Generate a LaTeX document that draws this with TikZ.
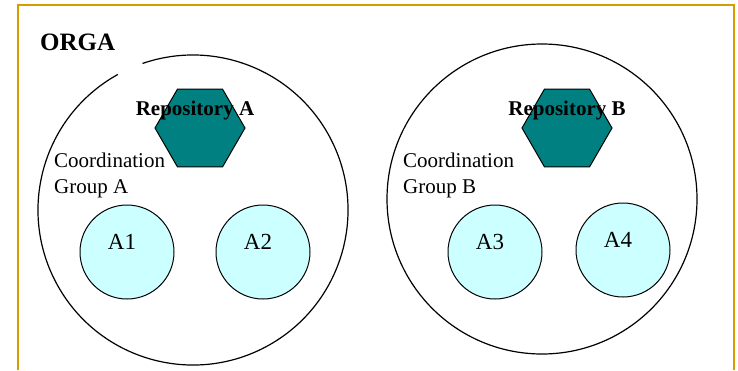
\documentclass[tikz,border=0pt]{standalone}
\usepackage{fontspec}
\setmainfont{Liberation Serif}
\usetikzlibrary{shapes.geometric}
\definecolor{orgframe}{RGB}{212,158,0}
\definecolor{repofill}{RGB}{0,128,128}
\definecolor{memberfill}{RGB}{204,255,255}
\tikzset{
  member/.style={circle,draw,line width=1pt,fill=memberfill,minimum size=94pt,inner sep=0pt},
  membername/.style={font=\fontsize{23}{27}\selectfont,inner sep=0pt},
  repo/.style={regular polygon,regular polygon sides=6,draw,line width=1pt,fill=repofill,minimum size=90pt,inner sep=0pt},
  reponame/.style={font=\fontsize{21}{25}\selectfont\bfseries,inner sep=0pt},
  grouptext/.style={font=\fontsize{21}{26}\selectfont,align=left,inner sep=0pt,anchor=base west},
}

\begin{document}
\begin{tikzpicture}[x=1pt,y=1pt]
\useasboundingbox (0,0) rectangle (738,-370);
% frame, open at the bottom
\draw[orgframe,line width=2pt] (18,-370) |- (734,-5) -- (734,-370);
\node[font=\fontsize{25}{30}\selectfont\bfseries,inner sep=0pt,anchor=base west] (orga) at (40,-50) {ORGA};

% the two coordination groups
\coordinate (ga) at (193,-210);
\coordinate (gb) at (542,-199);
\draw[line width=1.2pt] ([shift={(119:155)}]ga) arc[start angle=119,end angle=469,radius=155];
\draw[line width=1.2pt] (gb) circle[radius=155];

\node[repo] (repoA) at (200,-128) {};
\node[repo] (repoB) at (567,-128) {};
\node[reponame] at (195,-110) {Repository A};
\node[reponame] at (567,-110) {Repository B};

% base anchor sits on the last line
\node[grouptext] (groupA) at (54,-193) {Coordination\\Group A};
\node[grouptext] (groupB) at (403,-193) {Coordination\\Group B};

\node[member] (a1) at (127,-252) {};
\node[member] (a2) at (263,-252) {};
\node[member] (a3) at (495,-252) {};
\node[member] (a4) at (623,-250) {};
\foreach \m/\t in {a1/A1,a2/A2,a3/A3,a4/A4}
  \node[membername] at ([shift={(-5,10)}]\m) {\t};
\end{tikzpicture}
\end{document}
